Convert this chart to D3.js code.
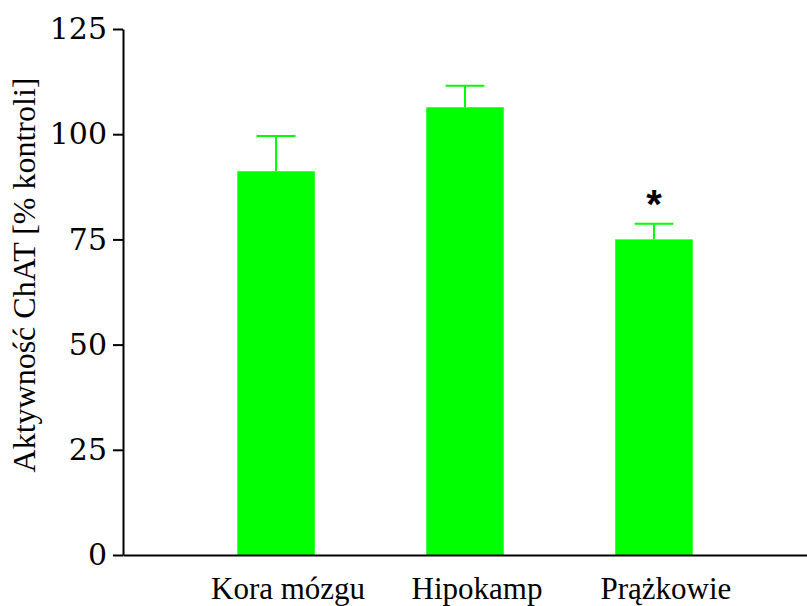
<!DOCTYPE html>
<html>
<head>
<meta charset="utf-8">
<script src="https://cdn.jsdelivr.net/npm/d3@7"></script>
<style>
  html, body { margin: 0; padding: 0; background: #fff; }
  svg { display: block; }
  .serif { font-family: "Liberation Serif", "Tinos", "Times New Roman", Times, serif; }
  .num { font-family: "DejaVu Serif", serif; }
  .sans { font-family: "Liberation Sans", Arial, sans-serif; }
</style>
</head>
<body>
<svg id="chart" width="807" height="606"></svg>
<script>
// ChAT activity per brain region, % of control (mean ± SEM)
const categories = ["Kora mózgu", "Hipokamp", "Prążkowie"];
const means = [91.2, 106.4, 75.0];
const sems = [8.4, 5.1, 3.7];
const significant = [false, false, true];
const yTicks = [0, 25, 50, 75, 100, 125];
const yLabel = "Aktywność ChAT [% kontroli]";

const svg = d3.select("#chart");
const green = "#00ff00";

const x = d3.scaleBand()
  .domain(categories)
  .range([123, 807])
  .paddingInner(0.59)
  .paddingOuter(0.605);

const y = d3.scaleLinear()
  .domain([0, 125])
  .range([555, 29]);

// bars
svg.selectAll("rect.bar")
  .data(categories)
  .join("rect")
  .attr("class", "bar")
  .attr("x", d => x(d))
  .attr("width", x.bandwidth())
  .attr("y", (d, i) => y(means[i]))
  .attr("height", (d, i) => y(0) - y(means[i]))
  .attr("fill", green);

// error bars (upper only)
const capW = x.bandwidth() / 2;
const eb = svg.selectAll("g.err")
  .data(categories)
  .join("g")
  .attr("class", "err")
  .attr("stroke", green)
  .attr("stroke-width", 2);
eb.append("line")
  .attr("x1", d => x(d) + x.bandwidth() / 2)
  .attr("x2", d => x(d) + x.bandwidth() / 2)
  .attr("y1", (d, i) => y(means[i]))
  .attr("y2", (d, i) => y(means[i] + sems[i]));
eb.append("line")
  .attr("x1", d => x(d) + x.bandwidth() / 2 - capW / 2)
  .attr("x2", d => x(d) + x.bandwidth() / 2 + capW / 2)
  .attr("y1", (d, i) => y(means[i] + sems[i]))
  .attr("y2", (d, i) => y(means[i] + sems[i]));

// significance markers
svg.selectAll("text.sig")
  .data(categories.filter((d, i) => significant[i]))
  .join("text")
  .attr("class", "sig sans")
  .attr("x", d => x(d) + x.bandwidth() / 2)
  .attr("y", d => { const i = categories.indexOf(d); return y(means[i] + sems[i]) - 6; })
  .attr("text-anchor", "middle")
  .attr("font-weight", "bold")
  .attr("font-size", 40)
  .attr("fill", "#000")
  .text("*");

// y axis
const yAxis = d3.axisLeft(y)
  .tickValues(yTicks)
  .tickSize(10)
  .tickPadding(6)
  .tickSizeOuter(0);
const gy = svg.append("g")
  .attr("transform", "translate(123,0)")
  .call(yAxis)
  .attr("font-family", null);
gy.select(".domain").attr("stroke", "#000").attr("stroke-width", 2);
gy.selectAll(".tick line").attr("stroke", "#000").attr("stroke-width", 2);
gy.selectAll(".tick text")
  .attr("class", "num")
  .attr("fill", "#000")
  .attr("font-size", 30);

// x axis
const xAxis = d3.axisBottom(x).tickSize(0).tickSizeOuter(0).tickPadding(0);
const gx = svg.append("g")
  .attr("transform", `translate(0,${y(0)})`)
  .call(xAxis)
  .attr("font-family", null);
gx.select(".domain").attr("stroke", "#000").attr("stroke-width", 2);
gx.selectAll(".tick text")
  .attr("class", "serif")
  .attr("fill", "#000")
  .attr("font-size", 31)
  .attr("dy", null)
  .attr("dx", 12)
  .attr("y", 44);

// y axis title
svg.append("text")
  .attr("class", "serif")
  .attr("transform", `translate(35,${(76 + 474) / 2}) rotate(-90)`)
  .attr("text-anchor", "middle")
  .attr("font-size", 32)
  .attr("fill", "#000")
  .text(yLabel);
</script>
</body>
</html>
